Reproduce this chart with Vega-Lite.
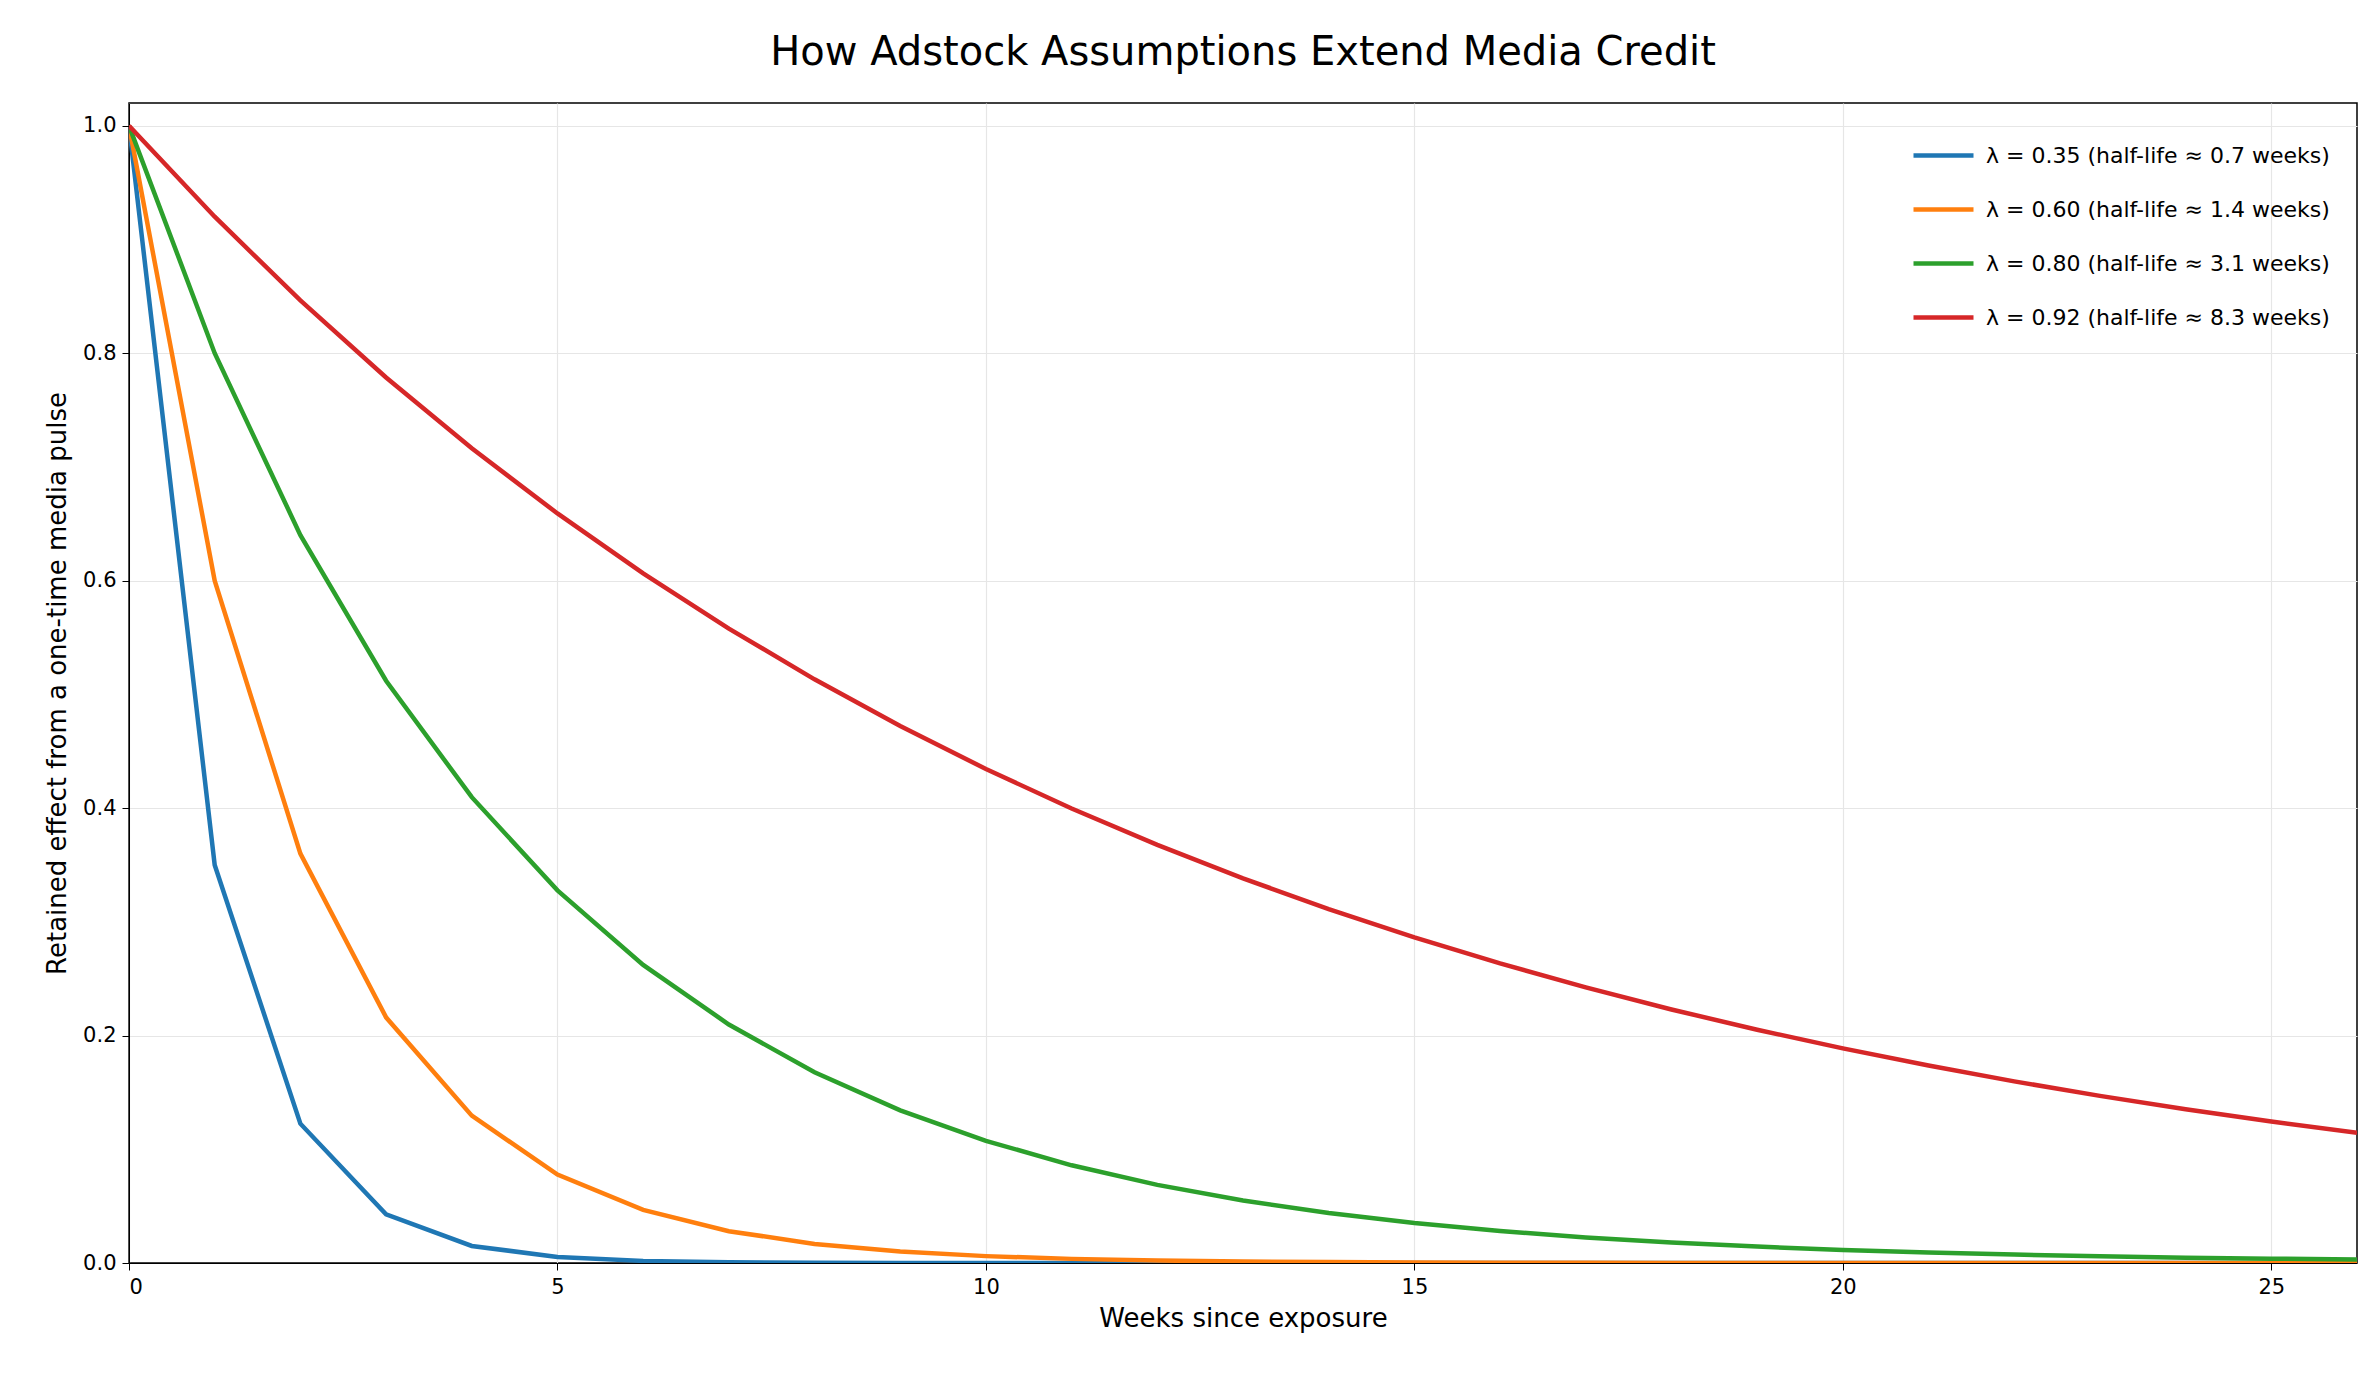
{
  "$schema": "https://vega.github.io/schema/vega-lite/v6.json",
  "width": 2228,
  "height": 1160,
  "autosize": "none",
  "padding": {"left": 129, "top": 103, "right": 20, "bottom": 114},
  "background": "white",
  "title": {"text": "How Adstock Assumptions Extend Media Credit", "fontSize": 40, "font": "DejaVu Sans", "fontWeight": "normal", "color": "black", "offset": 30},
  "config": {
    "font": "DejaVu Sans",
    "view": {"stroke": "black", "strokeWidth": 1.5},
    "axis": {"labelFontSize": 21, "titleFontSize": 26, "titleFontWeight": "normal", "labelColor": "black", "titleColor": "black", "domainColor": "black", "tickColor": "black", "tickSize": 7, "labelPadding": 6, "gridColor": "#e6e6e6", "gridWidth": 1.2}
  },
  "data": {"values": [
    {"week": 0, "a": 1, "b": 1, "c": 1, "d": 1},
    {"week": 1, "a": 0.35, "b": 0.6, "c": 0.8, "d": 0.92},
    {"week": 2, "a": 0.1225, "b": 0.36, "c": 0.64, "d": 0.8464},
    {"week": 3, "a": 0.042875, "b": 0.216, "c": 0.512, "d": 0.778688},
    {"week": 4, "a": 0.015006, "b": 0.1296, "c": 0.4096, "d": 0.716393},
    {"week": 5, "a": 0.005252, "b": 0.07776, "c": 0.32768, "d": 0.659082},
    {"week": 6, "a": 0.001838, "b": 0.046656, "c": 0.262144, "d": 0.606355},
    {"week": 7, "a": 0.000643, "b": 0.02799, "c": 0.209715, "d": 0.557847},
    {"week": 8, "a": 0.000225, "b": 0.016796, "c": 0.167772, "d": 0.513219},
    {"week": 9, "a": 0.000079, "b": 0.010078, "c": 0.134218, "d": 0.472161},
    {"week": 10, "a": 0.000028, "b": 0.006047, "c": 0.107374, "d": 0.434388},
    {"week": 11, "a": 0.00001, "b": 0.003628, "c": 0.085899, "d": 0.399637},
    {"week": 12, "a": 0.000003, "b": 0.002177, "c": 0.068719, "d": 0.367666},
    {"week": 13, "a": 0.000001, "b": 0.001306, "c": 0.054976, "d": 0.338253},
    {"week": 14, "a": 0, "b": 0.000784, "c": 0.04398, "d": 0.311193},
    {"week": 15, "a": 0, "b": 0.00047, "c": 0.035184, "d": 0.286297},
    {"week": 16, "a": 0, "b": 0.000282, "c": 0.028147, "d": 0.263394},
    {"week": 17, "a": 0, "b": 0.000169, "c": 0.022518, "d": 0.242322},
    {"week": 18, "a": 0, "b": 0.000102, "c": 0.018014, "d": 0.222936},
    {"week": 19, "a": 0, "b": 0.000061, "c": 0.014412, "d": 0.205101},
    {"week": 20, "a": 0, "b": 0.000037, "c": 0.011529, "d": 0.188693},
    {"week": 21, "a": 0, "b": 0.000022, "c": 0.009223, "d": 0.173597},
    {"week": 22, "a": 0, "b": 0.000013, "c": 0.007379, "d": 0.159709},
    {"week": 23, "a": 0, "b": 0.000008, "c": 0.005903, "d": 0.146933},
    {"week": 24, "a": 0, "b": 0.000005, "c": 0.004722, "d": 0.135178},
    {"week": 25, "a": 0, "b": 0.000003, "c": 0.003778, "d": 0.124364},
    {"week": 26, "a": 0, "b": 0.000002, "c": 0.003022, "d": 0.114415}
  ]},
  "transform": [
    {"fold": ["a", "b", "c", "d"], "as": ["key", "value"]},
    {"lookup": "key", "from": {"data": {"values": [
      {"key": "a", "series": "λ = 0.35  (half-life ≈ 0.7 weeks)"},
      {"key": "b", "series": "λ = 0.60  (half-life ≈ 1.4 weeks)"},
      {"key": "c", "series": "λ = 0.80  (half-life ≈ 3.1 weeks)"},
      {"key": "d", "series": "λ = 0.92  (half-life ≈ 8.3 weeks)"}
    ]}, "key": "key", "fields": ["series"]}}
  ],
  "mark": {"type": "line", "strokeWidth": 4.5, "clip": true},
  "encoding": {
    "x": {"field": "week", "type": "quantitative", "title": "Weeks since exposure", "scale": {"domain": [0, 26], "nice": false, "zero": false}, "axis": {"values": [0, 5, 10, 15, 20, 25], "format": "d", "titlePadding": 8}},
    "y": {"field": "value", "type": "quantitative", "title": "Retained effect from a one-time media pulse", "scale": {"domain": [0, 1.02], "nice": false}, "axis": {"values": [0, 0.2, 0.4, 0.6, 0.8, 1.0], "format": ".1f", "titlePadding": 12}},
    "color": {"field": "series", "type": "nominal", "scale": {"range": ["#1f77b4", "#ff7f0e", "#2ca02c", "#d62728"]},
      "legend": {"title": null, "orient": "top-right", "symbolType": "stroke", "symbolStrokeWidth": 4.5, "symbolSize": 3600, "labelFontSize": 22, "labelColor": "black", "rowPadding": 10, "offset": 20, "labelLimit": 700, "labelOffset": 10}}
  }
}
